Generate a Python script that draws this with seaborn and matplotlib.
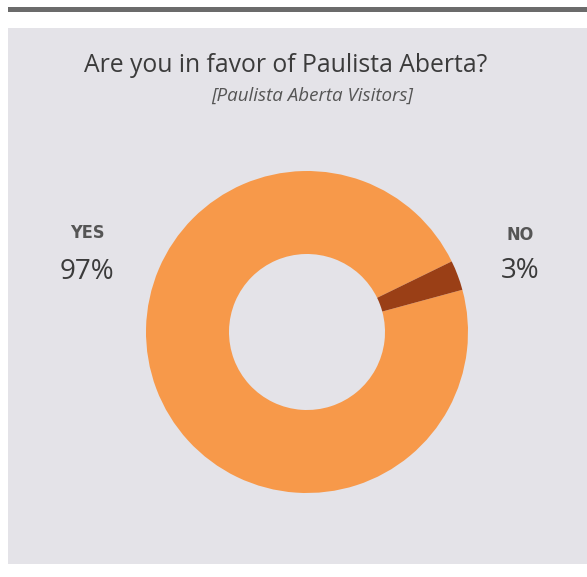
import matplotlib
matplotlib.use("Agg")
import matplotlib.pyplot as plt
import seaborn as sns
from matplotlib.patches import Rectangle

# data
answers = ["YES", "NO"]
shares = [97, 3]
share_labels = ["97%", "3%"]

sns.set_theme(style="white")
plt.rcParams['font.family'] = ['Open Sans', 'DejaVu Sans']

colors = ["#F7994A", "#9A3F16"]
W, H = 587, 577
fig = plt.figure(figsize=(W / 100, H / 100), dpi=100)
fig.patch.set_facecolor("white")

# panel background and top rule (pixel coords -> figure fraction)
def px_rect(x0, y0, x1, y1, color):
    fig.patches.append(Rectangle((x0 / W, 1 - y1 / H), (x1 - x0) / W, (y1 - y0) / H,
                                 transform=fig.transFigure, facecolor=color,
                                 edgecolor="none", zorder=-5))

px_rect(8, 7, W, 12, "#6b6b6b")
px_rect(8, 28, W, 564, "#E4E3E8")

# donut
cx, cy, r = 307, 332, 161
ax = fig.add_axes([(cx - r) / W, (H - cy - r) / H, 2 * r / W, 2 * r / H])
ax.set_zorder(2)
ax.patch.set_alpha(0)
ax.pie(shares, colors=colors, startangle=26, counterclock=True,
       wedgeprops=dict(width=1 - 78 / r, linewidth=0))
ax.set_xlim(-1, 1)
ax.set_ylim(-1, 1)
ax.set_aspect("equal")
ax.axis("off")

# titles
fig.text(286 / W, 1 - 65 / H, "Are you in favor of Paulista Aberta?",
         ha="center", va="center", fontsize=17.8, color="#3b3b3b")
fig.text(312 / W, 1 - 96 / H, "[Paulista Aberta Visitors]",
         ha="center", va="center", fontsize=13.5, color="#555555", style="italic")

# labels
label_pos = [(87, 233, 272), (520, 235, 271)]
for name, lab, (x, y1, y2) in zip(answers, share_labels, label_pos):
    fig.text(x / W, 1 - y1 / H, name, ha="center", va="center", fontsize=13,
             fontweight="bold", color="#555555", family="DejaVu Sans",
             fontstretch="condensed")
    fig.text(x / W, 1 - y2 / H, lab, ha="center", va="center", fontsize=20,
             color="#3b3b3b")

fig.savefig("out.png", dpi=100)
